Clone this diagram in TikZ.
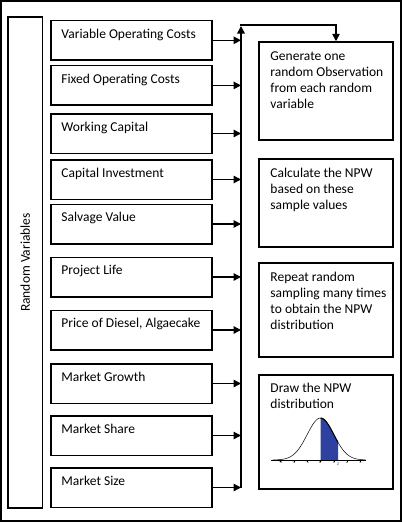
\documentclass[tikz,border=0pt]{standalone}
\usepackage{fontspec}
\setmainfont{Carlito}
\usetikzlibrary{arrows.meta,calc}
\definecolor{npwblue}{RGB}{46,64,160}
\begin{document}
\begin{tikzpicture}[x=1pt,y=1pt,
  frame/.style={draw, line width=1.5pt},
  varbox/.style={frame, minimum width=161pt, minimum height=39.5pt, inner sep=0pt},
  rbox/.style={frame, minimum width=134pt, inner sep=0pt},
  boxtext/.style={anchor=north west, inner sep=0pt, align=left, font=\fontsize{13.5}{16}\selectfont},
  arr/.style={line width=1.4pt, -{Triangle[length=7.5pt,width=7.5pt]}},
  conn/.style={line width=1.4pt}
]
\useasboundingbox (0,0) rectangle (402,-523);
\draw[frame] (1,-1) rectangle (401,-521);

% left tall box
\node[frame, minimum width=34.5pt, minimum height=491pt, inner sep=0pt] (rv) at (25.25,-262.5) {};
\node[rotate=90, font=\fontsize{13.5}{16}\selectfont] (rvt) at (rv.center) {Random Variables};

% variable boxes
\node[varbox] (v1) at (131.5,-40.3) {};
\node[varbox] (v2) at (131.5,-85.4) {};
\node[varbox] (v3) at (131.5,-133.5) {};
\node[varbox] (v4) at (131.5,-179.5) {};
\node[varbox] (v5) at (131.5,-224) {};
\node[varbox] (v6) at (131.5,-277) {};
\node[varbox] (v7) at (131.5,-330) {};
\node[varbox] (v8) at (131.5,-383.5) {};
\node[varbox] (v9) at (131.5,-435.5) {};
\node[varbox] (v10) at (131.5,-487.5) {};

\node[boxtext] (t1) at ($(v1.north west)+(11,-6.8)$) {\strut Variable Operating Costs};
\node[boxtext] (t2) at ($(v2.north west)+(11,-6.8)$) {\strut Fixed Operating Costs};
\node[boxtext] (t3) at ($(v3.north west)+(11,-6.8)$) {\strut Working Capital};
\node[boxtext] (t4) at ($(v4.north west)+(11,-6.8)$) {\strut Capital Investment};
\node[boxtext] (t5) at ($(v5.north west)+(11,-6.8)$) {\strut Salvage Value};
\node[boxtext] (t6) at ($(v6.north west)+(11,-6.8)$) {\strut Project Life};
\node[boxtext] (t7) at ($(v7.north west)+(11,-6.8)$) {\strut Price of Diesel, Algaecake};
\node[boxtext] (t8) at ($(v8.north west)+(11,-6.8)$) {\strut Market Growth};
\node[boxtext] (t9) at ($(v9.north west)+(11,-6.8)$) {\strut Market Share};
\node[boxtext] (t10) at ($(v10.north west)+(11,-6.8)$) {\strut Market Size};

% right boxes
\node[rbox, minimum height=98pt] (r1) at (326,-91) {};
\node[rbox, minimum height=88pt] (r2) at (326,-203) {};
\node[rbox, minimum height=94pt] (r3) at (326,-310) {};
\node[rbox, minimum height=114pt] (r4) at (326,-432) {};

\node[boxtext] (s1) at ($(r1.north west)+(12,-8)$) {\strut Generate one\\random Observation\\from each random\\variable};
\node[boxtext] (s2) at ($(r2.north west)+(12,-7.8)$) {\strut Calculate the NPW\\based on these\\sample values};
\node[boxtext] (s3) at ($(r3.north west)+(12,-7.5)$) {\strut Repeat random\\sampling many times\\to obtain the NPW\\distribution};
\node[boxtext] (s4) at ($(r4.north west)+(12,-7.1)$) {\strut Draw the NPW\\distribution};

% spine
\coordinate (spinetop) at (241,-25);
\coordinate (drop) at (336,-25);
\coordinate (spinebot) at (v10.east -| spinetop);
\foreach \i in {1,...,10}{
  \draw[arr] (v\i.east) -- (v\i.east -| spinetop);
}
\draw[arr] (spinebot) -- ($(spinetop)+(0,-1)$);
\draw[conn, -{Triangle[length=7.5pt,width=7.5pt]}] ($(spinetop)+(-0.7,0)$) -- (drop) -- (drop |- r1.north);

% bell curve
\begin{scope}[shift={(320.5,-460)}, x=13.3pt, y=1pt]
  \fill[npwblue] (0,0) -- plot[domain=0:1.32, samples=30] ({\x},{42*exp(-0.5*(\x)*(\x))}) -- (1.32,0) -- cycle;
  \draw[line width=0.5pt] plot[domain=-3.6:3.4, samples=80, smooth] ({\x},{42*exp(-0.5*(\x)*(\x))});
  \draw[line width=1pt] plot[domain=0:1.32, samples=20, smooth] ({\x},{42*exp(-0.5*(\x)*(\x))});
  \draw[line width=0.8pt] (-3.7,0) -- (3.4,0);
  \foreach \t in {-3,...,3}{
    \draw[line width=0.3pt] (\t,0) -- (\t,-1.5);
    \node[font=\fontsize{4}{4}\selectfont, inner sep=0pt, anchor=north] (tk\t) at (\t,-1) {\t};
  }
  \node[font=\fontsize{5}{5}\selectfont, text=npwblue, inner sep=0pt, anchor=north] (zl) at (1.32,-2.5) {z};
\end{scope}
\end{tikzpicture}
\end{document}
